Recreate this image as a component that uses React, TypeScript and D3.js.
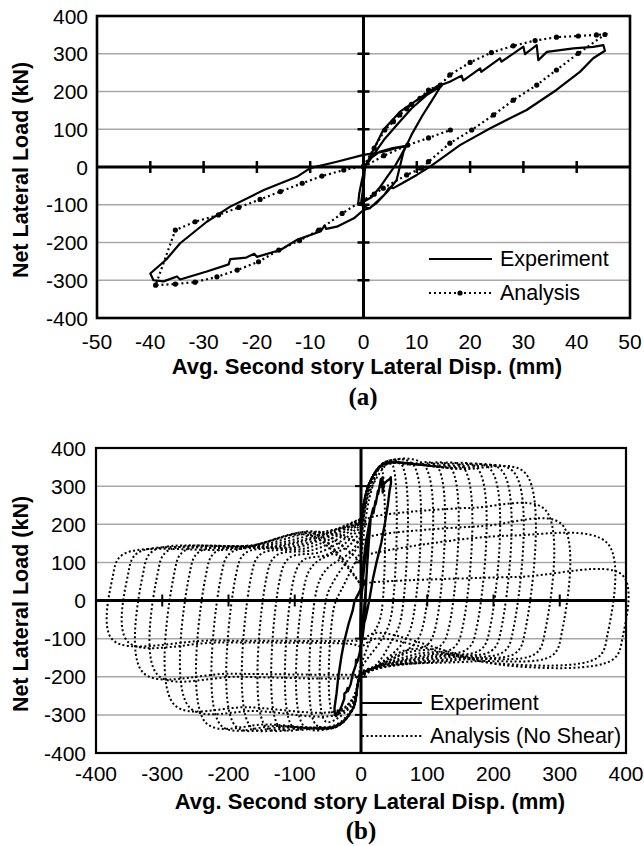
import React from "react";
import * as d3 from "d3";

// ---------------- Panel (a) data ----------------
const aXTicks = [-50, -40, -30, -20, -10, 0, 10, 20, 30, 40, 50];
const aYTicks = [-400, -300, -200, -100, 0, 100, 200, 300, 400];

// Experiment (solid) – displacement (mm) / load (kN)
const expX = [0, 1.5, 3, 5.5, 8, 7, 6, 4.5, 3, 1.5, 0, -1, -0.8, -0.3, 0.3, 2, 4, 6.5, 9, 12, 14.5,
  13, 11, 9, 7.5, 6.2, 4.5, 2.5, 1, -0.5, 0, 0.3, 3.7, 6.8, 10, 13.7, 16.2, 18.4, 18.7, 21.9, 22.1, 25.6, 25.9,
  30, 30.3, 32.5, 32.8, 34.4, 39.4, 43.1, 45, 45.3, 43.1, 40.6, 36.2, 30.6, 23.7, 18.1, 12.5, 10, 7, 5.6, 4.8,
  4, 2.5, 1.2, 0, -1.8, -5, -7, -7.3, -8, -12.5, -15.6, -20, -20.5, -22, -25, -25.3, -29.4, -34.4, -35, -37.5,
  -39.4, -40, -37, -34.4, -29.4, -25, -18.7, -12.5, -10, -5, 0, 4, 6, 8];
const expY = [0, 25, 40, 50, 56, 30, 5, -25, -55, -80, -92, -98, -70, -35, 0, 35, 75, 115, 155, 192, 214,
  180, 135, 85, 40, -35, -65, -95, -110, -100, -50, 1, 98, 146, 177, 213, 226, 242, 229, 261, 252, 288, 279,
  319, 299, 323, 283, 305, 314, 318, 323, 308, 288, 252, 204, 151, 102, 58, 1, -21, -45, -56, -55,
  -72, -92, -109, -114, -136, -158, -164, -155, -170, -193, -220, -238, -230, -240, -244, -258, -277, -298, -290, -303,
  -300, -282, -245, -202, -145, -105, -61, -26, -3, 14, 32, 41, 50, 55];

// Analysis (dotted with markers)
const anaX = [0, 2, 4, 5.6, 6.8, 8.1, 9, 10.6, 12.2, 14.4, 16.2, 20, 24, 28.1, 32.2, 36.2, 40.3, 43.7, 45.3,
  40.3, 36.2, 32.5, 28.1, 24.4, 20.3, 16.2, 12.2, 10.9, 8.1, 3.7, 2, 0, -4, -8.4, -12, -15.9, -19.7, -23.7,
  -27.5, -31.6, -35.3, -39, -35.3, -31.6, -27.2, -23.4, -19.4, -15.6, -11.5, -7.8, -3.7, 0];
const anaY = [2, 50, 98, 120, 138, 154, 166, 182, 204, 217, 244, 277, 303, 321, 335, 344, 347, 350, 351,
  301, 257, 217, 177, 138, 98, 63, 14, -3, -21, -56, -72, -87, -123, -167, -195, -220, -251, -273,
  -291, -305, -310, -313, -167, -145, -127, -107, -86, -65, -43, -24, -8, 2];
const anaInX = [0, 3.8, 8.3, 12.2, 16.3];
const anaInY = [0, 30, 58, 77, 98];

// ---------------- Panel (b) data ----------------
const bXTicks = [-400, -300, -200, -100, 0, 100, 200, 300, 400];
const bYTicks = [-400, -300, -200, -100, 0, 100, 200, 300, 400];

// Analysis (No Shear) cycles: key values
const cycXp = [30, 45, 60, 78, 95, 114, 134, 154, 175, 195, 212, 230, 248, 278, 303, 372, 395];
const cycTp = [352, 362, 360, 358, 356, 354, 352, 350, 348, 345, 342, 338, 334, 238, 200, 150, 66];
const cycPk = [352, 362, 362, 362, 361, 361, 360, 360, 358, 357, 356, 355, 355, 225, 175, 130, 50];
const cycPm = [352, 362, 361, 360, 358, 357, 356, 355, 353, 351, 349, 347, 345, 243, 195, 170, 62];
const cycZ0 = [100, 130, 150, 170, 185, 195, 200, 205, 208, 210, 212, 214, 215, 200, 150, 100, 40];
const cycBp = [-100, -105, -110, -112, -115, -118, -120, -125, -128, -130, -132, -135, -138, -140, -145, -150, -155];
const cycZ1 = [-170, -180, -190, -193, -195, -195, -195, -195, -195, -195, -196, -198, -200, -200, -195, -120, -105];
const cycXn = [-41, -53, -68, -86, -103, -123, -143, -166, -189, -211, -234, -259, -282, -307, -329, -352, -375];
const cycNk = [-300, -318, -326, -330, -331, -332, -332, -332, -331, -330, -328, -300, -290, -205, -195, -112, -106];
const cycNm = [-300, -318, -326, -330, -332, -333, -333, -332, -331, -329, -325, -290, -280, -200, -192, -110, -105];
const cycBn = [-300, -318, -326, -330, -332, -333, -333, -332, -330, -328, -321, -280, -273, -195, -189, -108, -103];
const cycTn = [40, 60, 80, 95, 105, 112, 118, 122, 125, 126, 128, 128, 130, 130, 130, 125, 120];

type Pt = [number, number];

function cyclePoints(i: number): Pt[] {
  const pts: Pt[] = [];
  const xp = cycXp[i];
  const xn = cycXn[i];
  pts.push([0, cycZ0[i]]);
  pts.push([12, cycZ0[i] + 0.65 * (cycPk[i] - cycZ0[i])]);
  if (xp > 45) pts.push([35, cycPk[i]]);
  if (xp > 100) pts.push([xp * 0.6, cycPm[i]]);
  pts.push([xp, cycTp[i]]);
  pts.push([xp, cycBp[i] + 60]);
  pts.push([xp - 15, cycBp[i]]);
  if (xp > 100) pts.push([xp * 0.55, cycBp[i] - 15]);
  if (xp > 45) pts.push([22, cycZ1[i] + 20]);
  pts.push([0, cycZ1[i]]);
  pts.push([-12, cycZ1[i] + 0.65 * (cycNk[i] - cycZ1[i])]);
  if (xn < -55) pts.push([-38, cycNk[i]]);
  if (xn < -100) pts.push([xn * 0.6, cycNm[i]]);
  pts.push([xn, cycBn[i]]);
  pts.push([xn, cycTn[i] - 60]);
  pts.push([xn + 15, cycTn[i]]);
  if (xn < -100) pts.push([xn * 0.5, cycTn[i] + 15]);
  if (xn < -55) pts.push([xn * 0.2, cycTn[i] + 50]);
  const next = i + 1 < cycXp.length ? cycZ0[i + 1] : cycZ0[i];
  pts.push([0, next]);
  return pts;
}

const FONT = "'Liberation Sans', Arial, Helvetica, sans-serif";

function Axes(p: any) {
  const { xs, ys, xTicks, yTicks, tickLen, tickW, zeroW, gridW } = p;
  const [x0, x1] = xs.range();
  const [yb, yt] = ys.range();
  const xMin = xTicks[0], xMax = xTicks[xTicks.length - 1];
  const yMin = yTicks[0], yMax = yTicks[yTicks.length - 1];
  return (
    <g>
      {yTicks.filter((v: number) => v !== yMin && v !== yMax && v !== 0).map((v: number) => (
        <line key={"g" + v} x1={x0} x2={x1} y1={ys(v)} y2={ys(v)} stroke="#a8a8a8" strokeWidth={gridW} />
      ))}
      <line x1={x0} x2={x1} y1={ys(0)} y2={ys(0)} stroke="#000" strokeWidth={zeroW} />
      <line x1={xs(0)} x2={xs(0)} y1={yt} y2={yb} stroke="#000" strokeWidth={zeroW} />
      {xTicks.filter((v: number) => v !== xMin && v !== xMax && v !== 0).map((v: number) => (
        <line key={"xt" + v} x1={xs(v)} x2={xs(v)} y1={ys(0) - tickLen} y2={ys(0) + tickLen} stroke="#000" strokeWidth={tickW} />
      ))}
      {yTicks.filter((v: number) => v !== yMin && v !== yMax && v !== 0).map((v: number) => (
        <line key={"yt" + v} x1={xs(0) - tickLen} x2={xs(0) + tickLen} y1={ys(v)} y2={ys(v)} stroke="#000" strokeWidth={tickW} />
      ))}
    </g>
  );
}

function Labels(p: any) {
  const { xs, ys, xTicks, yTicks, yLabelX, xLabelY, fs } = p;
  return (
    <g fontFamily={FONT} fontSize={fs} fill="#000">
      {yTicks.map((v: number) => (
        <text key={"yl" + v} x={yLabelX} y={ys(v)} textAnchor="end" dominantBaseline="central">{v}</text>
      ))}
      {xTicks.map((v: number) => (
        <text key={"xl" + v} x={xs(v)} y={xLabelY} textAnchor="middle" dominantBaseline="central">{v}</text>
      ))}
    </g>
  );
}

export default function App() {
  const ax = d3.scaleLinear().domain([-50, 50]).range([97, 630]);
  const ay = d3.scaleLinear().domain([-400, 400]).range([318, 16]);
  const bx = d3.scaleLinear().domain([-400, 400]).range([96, 626]);
  const by = d3.scaleLinear().domain([-400, 400]).range([753, 448]);

  const lineA = d3.line<Pt>().x((d) => ax(d[0])).y((d) => ay(d[1]));
  const lineB = d3.line<Pt>().x((d) => bx(d[0])).y((d) => by(d[1]));
  const lineBc = d3.line<Pt>().x((d) => bx(d[0])).y((d) => by(d[1])).curve(d3.curveCatmullRom.alpha(0.5));

  const expPts: Pt[] = expX.map((x, i) => [x, expY[i]]);
  const anaPts: Pt[] = anaX.map((x, i) => [x, anaY[i]]);
  const anaInPts: Pt[] = anaInX.map((x, i) => [x, anaInY[i]]);

  const cycles = cycXp.map((_, i) => cyclePoints(i));

  return (
    <svg width={644} height={846} style={{ position: "absolute", left: 0, top: 0, background: "#fff" }}>
      <rect x={0} y={0} width={644} height={846} fill="#fff" />
      {/* ---------- Panel (a) ---------- */}
      <Axes xs={ax} ys={ay} xTicks={aXTicks} yTicks={aYTicks} tickLen={6} tickW={2.5} zeroW={3} gridW={1.5} />
      <path d={lineA(anaPts) || ""} fill="none" stroke="#000" strokeWidth={2.2} strokeDasharray="2,3" />
      <path d={lineA(anaInPts) || ""} fill="none" stroke="#000" strokeWidth={2.2} strokeDasharray="2,3" />
      {anaPts.concat(anaInPts).map((d, i) => (
        <circle key={"am" + i} cx={ax(d[0])} cy={ay(d[1])} r={2.6} fill="#000" />
      ))}
      <path d={lineA(expPts) || ""} fill="none" stroke="#000" strokeWidth={2.2} strokeLinejoin="round" />
      <rect x={97} y={16} width={533} height={302} fill="none" stroke="#000" strokeWidth={2.6} />
      <Labels xs={ax} ys={ay} xTicks={aXTicks} yTicks={aYTicks} yLabelX={88} xLabelY={341} fs={21} />
      <text x={21} y={170} transform="rotate(-90 21 170)" textAnchor="middle" dominantBaseline="central"
        fontFamily={FONT} fontWeight="bold" fontSize={21.5}>Net Lateral Load (kN)</text>
      <text x={367} y={366} textAnchor="middle" dominantBaseline="central" fontFamily={FONT}
        fontWeight="bold" fontSize={22}>Avg. Second story Lateral Disp. (mm)</text>
      <text x={363} y={396} textAnchor="middle" dominantBaseline="central"
        fontFamily="'Liberation Serif', 'Times New Roman', serif" fontWeight="bold" fontSize={25}>(a)</text>
      {/* legend (a) */}
      <line x1={429} x2={492} y1={259} y2={259} stroke="#000" strokeWidth={2.2} />
      <line x1={429} x2={492} y1={293} y2={293} stroke="#000" strokeWidth={2.2} strokeDasharray="2,3" />
      <circle cx={460} cy={293} r={2.6} fill="#000" />
      <g fontFamily={FONT} fontSize={21.5}>
        <text x={500} y={259} dominantBaseline="central">Experiment</text>
        <text x={500} y={293} dominantBaseline="central">Analysis</text>
      </g>

      {/* ---------- Panel (b) ---------- */}
      <Axes xs={bx} ys={by} xTicks={bXTicks} yTicks={bYTicks} tickLen={6} tickW={2} zeroW={3} gridW={1.5} />
      {cycles.map((c, i) => (
        <path key={"cy" + i} d={lineBc(c) || ""} fill="none" stroke="#000" strokeWidth={2} strokeDasharray="2,2.4" />
      ))}
      <path d={lineB(expPts) || ""} fill="none" stroke="#000" strokeWidth={2.4} strokeLinejoin="round" />
      <rect x={96} y={448} width={530} height={305} fill="none" stroke="#000" strokeWidth={2.2} />
      <Labels xs={bx} ys={by} xTicks={bXTicks} yTicks={bYTicks} yLabelX={86} xLabelY={773} fs={21} />
      <text x={21} y={604} transform="rotate(-90 21 604)" textAnchor="middle" dominantBaseline="central"
        fontFamily={FONT} fontWeight="bold" fontSize={21.5}>Net Lateral Load (kN)</text>
      <text x={370} y={801} textAnchor="middle" dominantBaseline="central" fontFamily={FONT}
        fontWeight="bold" fontSize={22}>Avg. Second story Lateral Disp. (mm)</text>
      <text x={361} y={830} textAnchor="middle" dominantBaseline="central"
        fontFamily="'Liberation Serif', 'Times New Roman', serif" fontWeight="bold" fontSize={25}>(b)</text>
      {/* legend (b) */}
      <line x1={362} x2={422} y1={703} y2={703} stroke="#000" strokeWidth={2.2} />
      <line x1={362} x2={422} y1={736} y2={736} stroke="#000" strokeWidth={2} strokeDasharray="2,2.4" />
      <g fontFamily={FONT} fontSize={21.5}>
        <text x={430} y={703} dominantBaseline="central">Experiment</text>
        <text x={430} y={736} dominantBaseline="central">Analysis (No Shear)</text>
      </g>
    </svg>
  );
}
